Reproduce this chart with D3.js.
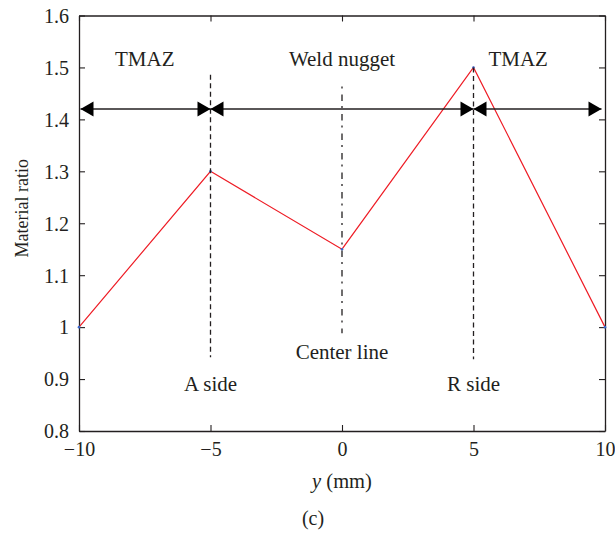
<!DOCTYPE html>
<html>
<head>
<meta charset="utf-8">
<script src="https://cdn.jsdelivr.net/npm/d3@7"></script>
<style>
  html, body { margin: 0; padding: 0; background: #fff; }
  svg text { font-family: "Liberation Serif", "Times New Roman", serif; fill: #231f20; }
</style>
</head>
<body>
<svg id="chart" width="615" height="535"></svg>
<script>
// Material ratio across the weld (y position in mm)
const positions = [-10, -5, 0, 5, 10];
const materialRatio = [1.0, 1.3, 1.15, 1.5, 1.0];

const xTicks = [-10, -5, 0, 5, 10];
const yTicks = [0.8, 0.9, 1.0, 1.1, 1.2, 1.3, 1.4, 1.5, 1.6];

// Zone spans drawn as double-headed arrows at one ratio level
const zoneNames = ["TMAZ", "Weld nugget", "TMAZ"];
const zoneStart = [-10, -5, 5];
const zoneEnd = [-5, 5, 10];
const zoneArrowLevel = 1.42;
const zoneLabelX = [-7.5, 0, 6.7];
const zoneLabelY = 1.502;

// Boundary markers
const boundaryX = [-5, 0, 5];
const boundaryTop = [1.486, 1.466, 1.5];
const boundaryBottom = [0.942, 0.988, 0.938];
const boundaryNames = ["A side", "Center line", "R side"];
const boundaryLabelY = [0.877, 0.938, 0.877];

const svg = d3.select("#chart");
const margin = { left: 79, right: 10, top: 15.5, bottom: 104 };
const W = 615, H = 535;
const x = d3.scaleLinear().domain([-10, 10]).range([margin.left, W - margin.right]);
const y = d3.scaleLinear().domain([0.8, 1.6]).range([H - margin.bottom, margin.top]);

const ink = "#231f20";

// Axes: box with inward ticks on every side
const tickLen = 6;
const gx = svg.append("g").attr("transform", `translate(0,${y(0.8)})`)
  .call(d3.axisBottom(x).tickValues(xTicks).tickSizeInner(-tickLen).tickSizeOuter(0).tickPadding(11)
    .tickFormat(d => d < 0 ? "\u2212" + Math.abs(d) : d));
const gxt = svg.append("g").attr("transform", `translate(0,${y(1.6)})`)
  .call(d3.axisTop(x).tickValues(xTicks).tickSizeInner(-tickLen).tickSizeOuter(0).tickFormat(""));
const gy = svg.append("g").attr("transform", `translate(${x(-10)},0)`)
  .call(d3.axisLeft(y).tickValues(yTicks).tickSizeInner(-tickLen).tickSizeOuter(0).tickPadding(10)
    .tickFormat(d => d === 1 ? "1" : d3.format(".1f")(d)));
const gyr = svg.append("g").attr("transform", `translate(${x(10)},0)`)
  .call(d3.axisRight(y).tickValues(yTicks).tickSizeInner(-tickLen).tickSizeOuter(0).tickFormat(""));

[gx, gxt, gy, gyr].forEach(g => {
  g.selectAll(".domain").attr("stroke", ink).attr("stroke-width", 1.3);
  g.selectAll(".tick line").attr("stroke", ink).attr("stroke-width", 1.1);
  g.selectAll(".tick text").attr("font-size", 20).attr("font-family", "Liberation Serif").attr("fill", ink);
});
gy.selectAll(".tick text").attr("dy", "0.34em");
gx.selectAll(".tick text").attr("dy", "0.71em");

// Data line
const line = d3.line().x((d, i) => x(positions[i])).y(d => y(d));
svg.append("path").datum(materialRatio)
  .attr("fill", "none").attr("stroke", "#ee1c25").attr("stroke-width", 1.2)
  .attr("d", line);
svg.selectAll("circle.pt").data(materialRatio).join("circle")
  .attr("class", "pt")
  .attr("cx", (d, i) => x(positions[i])).attr("cy", d => y(d))
  .attr("r", 1.3).attr("fill", "#3a66c8");

// Boundary lines
const dashes = ["5,3.5", "6.5,5,2,6", "5,3.5"];
boundaryX.forEach((bx, i) => {
  svg.append("line")
    .attr("x1", x(bx)).attr("x2", x(bx))
    .attr("y1", y(boundaryTop[i])).attr("y2", y(boundaryBottom[i]))
    .attr("stroke", ink).attr("stroke-width", 1.3)
    .attr("stroke-dasharray", dashes[i])
    .attr("stroke-dashoffset", i === 1 ? 10 : 0);
  svg.append("text")
    .attr("x", x(bx)).attr("y", y(boundaryLabelY[i]))
    .attr("text-anchor", "middle").attr("font-size", 21)
    .text(boundaryNames[i]);
});

// Zone arrows
const headLen = 13, headHalf = 7.5;
const ay = y(zoneArrowLevel);
zoneNames.forEach((name, i) => {
  const x0 = x(zoneStart[i]) + (i === 0 ? 1.5 : 0);
  const x1 = x(zoneEnd[i]) - (i === 2 ? 3.5 : 0);
  svg.append("line").attr("x1", x0).attr("x2", x1).attr("y1", ay).attr("y2", ay)
    .attr("stroke", ink).attr("stroke-width", 1.5);
  svg.append("path")
    .attr("d", `M${x0},${ay}L${x0 + headLen},${ay - headHalf}L${x0 + headLen},${ay + headHalf}Z`)
    .attr("fill", "#000");
  svg.append("path")
    .attr("d", `M${x1},${ay}L${x1 - headLen},${ay - headHalf}L${x1 - headLen},${ay + headHalf}Z`)
    .attr("fill", "#000");
  svg.append("text")
    .attr("x", x(zoneLabelX[i])).attr("y", y(zoneLabelY))
    .attr("text-anchor", "middle").attr("font-size", 21)
    .text(name);
});

// Axis titles
svg.append("text")
  .attr("transform", `translate(28,${(y(0.8) + y(1.6)) / 2 - 15}) rotate(-90)`)
  .attr("text-anchor", "middle").attr("font-size", 18)
  .text("Material ratio");

const xt = svg.append("text")
  .attr("x", x(0)).attr("y", 488)
  .attr("text-anchor", "middle").attr("font-size", 20.5);
xt.append("tspan").attr("font-style", "italic").text("y");
xt.append("tspan").text(" (mm)");

svg.append("text")
  .attr("x", 313).attr("y", 525)
  .attr("text-anchor", "middle").attr("font-size", 20)
  .text("(c)");
</script>
</body>
</html>
